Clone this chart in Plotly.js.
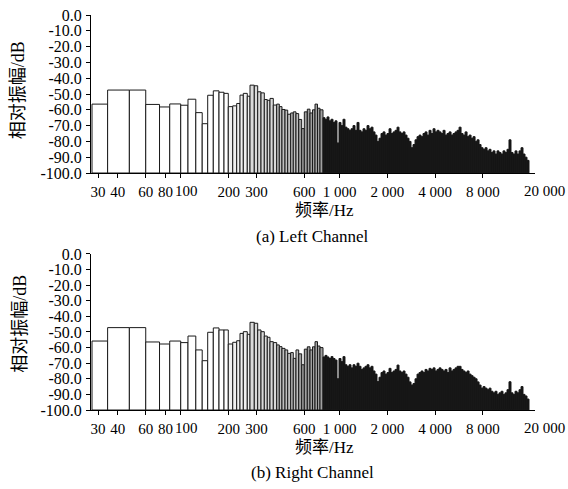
<!DOCTYPE html>
<html><head><meta charset="utf-8">
<script src="https://cdn.plot.ly/plotly-3.0.1.min.js"></script>
<style>html,body{margin:0;padding:0;background:#fff}</style>
</head><body><div id="chart" style="width:568px;height:489px"></div>
<script>
// Frequency band edges (Hz) of the spectrum bars
const bandEdgesHz = [27.5, 34.5, 47.3, 60.0, 73.3, 85.0, 99.7, 110.8, 124.1, 136.2, 147.5, 160.0, 173.8, 186.9, 198.9, 212.1, 224.7, 235.8, 247.4, 262.1, 272.6, 290.1, 304.8, 319.8, 335.5, 350.4, 364.4, 382.3, 401.6, 417.1, 433.7, 453.1, 471.2, 492.2, 511.1, 531.5, 552.7, 577.3, 599.8, 626.5, 651.5, 675.5, 700.4, 726.3, 753.2, 786.7,
809.8, 833.7, 858.2, 883.5, 909.6, 936.4, 964.0, 992.3, 1021.5, 1051.6, 1082.6, 1114.5, 1147.4, 1181.2, 1216.0, 1251.9, 1288.8, 1326.8, 1365.9, 1406.2, 1447.6, 1490.3, 1534.2, 1579.4, 1626.0, 1673.9, 1723.2, 1774.0, 1826.3, 1880.2, 1935.6, 1992.6, 2051.4, 2111.8, 2174.1, 2238.2, 2304.1, 2372.1, 2442.0, 2514.0, 2588.1, 2664.3, 2742.9, 2823.7, 2907.0, 2992.7, 3080.9, 3171.7, 3265.2, 3361.4, 3460.5, 3562.5, 3667.5, 3775.6, 3886.9, 4001.5, 4119.4, 4240.9, 4365.9, 4494.6, 4627.1, 4763.4, 4903.9, 5048.4, 5197.2, 5350.4, 5508.1, 5670.5, 5837.6, 6009.7, 6186.9, 6369.2, 6557.0, 6750.3, 6949.2, 7154.1, 7365.0, 7582.0, 7805.5, 8035.6, 8272.5, 8516.4, 8767.4, 9015.7, 9281.5, 9555.1, 9836.7, 10126.5, 10424.5, 10731.8, 11048.1, 11373.8, 11709.1, 12054.2, 12409.5, 12775.3, 13151.9, 13539.6, 13938.7, 14349.6, 14772.6, 15208.0, 15656.3];

// Left channel relative amplitude (dB) per band
const leftDb = [-56.4, -47.5, -47.5, -56.6, -58.2, -56.3, -57.1, -53.3, -61.8, -68.8,
-50.8, -48, -48.9, -49.6, -58, -57.5, -56, -50.7, -49.6, -51.4,
-44.4, -44.8, -48.6, -49.3, -53.5, -54, -52.8, -57, -56.4, -58,
-59.8, -60.2, -62.8, -62, -61.3, -62.4, -66.1, -71.9, -61.3, -59.6,
-62, -60, -56.4, -59, -60,
-65, -66, -64.5, -67, -66, -68, -67, -81, -68, -70,
-66, -71, -72, -73, -72, -70, -73, -68, -73, -74,
-72, -73, -70, -72, -71, -74, -76, -80, -78, -75,
-74, -76, -75, -72, -75, -74, -73, -71, -74, -75,
-74, -76, -78, -80, -84, -82, -79, -77, -76, -77,
-75, -74, -76, -73, -75, -72, -74, -73, -74, -75,
-73, -76, -75, -74, -76, -75, -74, -73, -71, -75,
-76, -74, -77, -76, -78, -77, -80, -79, -82, -84,
-85, -84, -86, -85, -87, -86, -88, -86, -87, -88,
-86, -87, -85, -79, -87, -88, -86, -88, -86, -84,
-88, -90, -92];

// Right channel relative amplitude (dB) per band
const rightDb = [-55.8, -47.2, -47.2, -56.4, -57.7, -55.8, -56.8, -52.6, -61.5, -68.4,
-50.2, -47.4, -48.7, -48.7, -57.7, -56.6, -55.6, -50.9, -49.8, -51.5,
-43.8, -44.4, -48.7, -49.8, -52.6, -53.4, -56.2, -56.8, -58.3, -59.4,
-60.5, -61.5, -63.7, -63.2, -66.9, -61.5, -64, -71, -61, -59.5,
-61.5, -59.5, -56.2, -59, -60,
-66, -65, -66, -67, -65.8, -67, -68, -80, -67, -69,
-65.8, -71, -72, -71, -73, -71, -72, -70, -72, -74,
-73, -72, -71, -73, -72, -75, -77, -81.8, -79, -76,
-75, -77, -76, -73.3, -76, -75, -74, -71.2, -75, -76,
-75, -77, -79, -82, -84, -83, -80, -77, -76, -75,
-76, -74, -75, -73.3, -74, -73, -75, -74, -73, -74,
-75, -74, -76, -73, -75, -74, -73, -72, -72, -74,
-75, -76, -75, -77, -78, -79, -80, -82, -84, -86,
-85, -86, -87, -86, -88, -89, -88, -90, -89, -88,
-90, -89, -87, -81.9, -89, -90, -88, -89, -87, -85,
-90, -91, -93];

const xTickVals = [30, 40, 60, 80, 100, 200, 300, 600, 1000, 2000, 4000, 8000];
// '100' and '20 000' are written as annotations (beside the tick / beyond the axis end) as in the print
const xTickText = ['30', '40', '60', '80', '', '200', '300', '600', '1 000', '2 000', '4 000', '8 000'];
const yTickVals = [0, -10, -20, -30, -40, -50, -60, -70, -80, -90, -100];
const yTickText = ['0.0', '-10.0', '-20.0', '-30.0', '-40.0', '-50.0', '-60.0', '-70.0', '-80.0', '-90.0', '-100.0'];

const FLOOR = -100;
const nBars = Math.min(bandEdgesHz.length - 1, leftDb.length, rightDb.length);
// fill shade by bar index (narrow bars blend toward black as in the print)
function shade(i) {
  if (i < 14) return '#ffffff';
  if (i < 20) return '#f0f0f0';
  if (i < 28) return '#dadada';
  if (i < 36) return '#c0c0c0';
  if (i < 45) return '#a0a0a0';
  return '#111111';
}
const centers = [], widths = [], fills = [];
for (let i = 0; i < nBars; i++) {
  const lo = bandEdgesHz[i], hi = bandEdgesHz[i + 1];
  centers.push((lo + hi) / 2);
  widths.push(hi - lo);
  fills.push(shade(i));
}

function barTrace(db, xa, ya) {
  return {
    type: 'bar', x: centers, y: db.slice(0, nBars).map(v => v - FLOOR), base: FLOOR,
    width: widths, xaxis: xa, yaxis: ya,
    customdata: db.slice(0, nBars),
    hovertemplate: '%{x:.0f} Hz: %{customdata:.1f} dB<extra></extra>',
    marker: {color: fills, line: {color: '#1a1a1a', width: 1}}
  };
}

const serif = 'Liberation Serif, "Times New Roman", "Noto Sans CJK SC", serif';
const tickFont = {family: serif, size: 15, color: '#000'};
const yTickFont = {family: serif, size: 16, color: '#000'};
const xRange = [1.433, 4.2325];

function xAxis(anchor) {
  return {type: 'log', range: xRange, anchor: anchor, tickmode: 'array', tickvals: xTickVals, ticktext: xTickText,
    tickangle: 0, ticks: 'outside', ticklen: 4, tickwidth: 1, tickcolor: '#000', showline: true, linecolor: '#000', linewidth: 1,
    showgrid: false, zeroline: false, tickfont: tickFont, ticklabelstandoff: 1};
}
function yAxis(domain, anchor) {
  return {domain: domain, range: [-100, 0], anchor: anchor, tickmode: 'array', tickvals: yTickVals, ticktext: yTickText,
    ticks: 'outside', ticklen: 4, tickwidth: 1, tickcolor: '#000', showline: true, linecolor: '#000', linewidth: 1,
    showgrid: false, zeroline: false, tickfont: yTickFont, ticklabelstandoff: 1};
}

const annFont = {family: serif, size: 17, color: '#000'};
const yTitleFont = {family: serif, size: 18, color: '#000'};
function ann(x, y, text, font, extra) {
  return Object.assign({xref: 'paper', yref: 'paper', x: x, y: y, xanchor: 'center', yanchor: 'middle', text: text, showarrow: false, font: font}, extra || {});
}
const layout = {
  width: 568, height: 489,
  margin: {l: 91, r: 33, t: 15, b: 79, pad: 0},
  paper_bgcolor: '#fff', plot_bgcolor: '#fff',
  showlegend: false, bargap: 0,
  xaxis: xAxis('y'), yaxis: yAxis([0.6, 1], 'x'),
  xaxis2: xAxis('y2'), yaxis2: yAxis([0, 0.395], 'x2'),
  annotations: [
    ann(0.215, 0.6, '100', tickFont, {yanchor: 'top', yshift: -8}),
    ann(0.215, 0, '100', tickFont, {yanchor: 'top', yshift: -8}),
    ann(1.022, 0.6, '20 000', tickFont, {yanchor: 'top', yshift: -8}),
    ann(1.022, 0, '20 000', tickFont, {yanchor: 'top', yshift: -8}),
    ann(0.525, 0.506, '频率/Hz', annFont),
    ann(0.525, -0.094, '频率/Hz', annFont),
    ann(0.498, 0.44, '(a) Left Channel', annFont),
    ann(0.498, -0.159, '(b) Right Channel', annFont),
    ann(-0.164, 0.81, '相对振幅/dB', yTitleFont, {textangle: -90}),
    ann(-0.16, 0.218, '相对振幅/dB', yTitleFont, {textangle: -90})
  ]
};

Plotly.newPlot('chart', [barTrace(leftDb, 'x', 'y'), barTrace(rightDb, 'x2', 'y2')], layout, {displayModeBar: false, staticPlot: true});
</script>
</body></html>
